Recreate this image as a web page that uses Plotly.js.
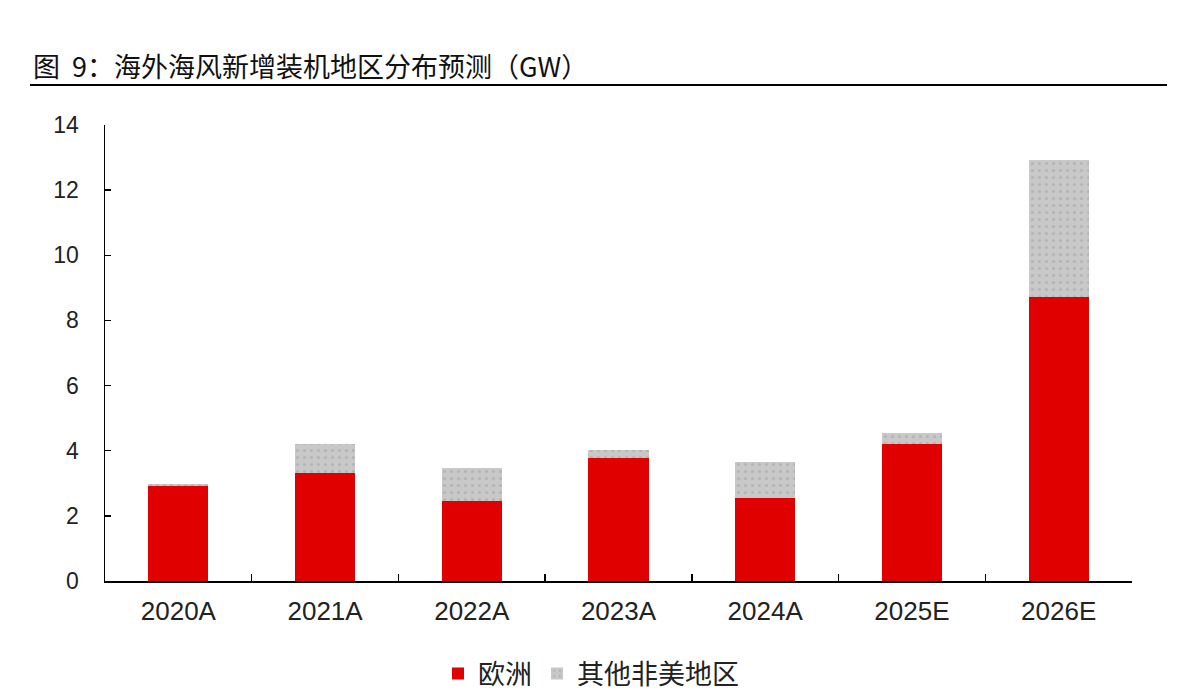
<!DOCTYPE html>
<html>
<head>
<meta charset="utf-8">
<script src="https://cdn.plot.ly/plotly-3.0.1.min.js"></script>
<style>html,body{margin:0;padding:0;background:#fff;}#chart{width:1182px;height:698px;}</style>
</head>
<body>
<div id="chart"></div>
<script>
const categories = ['2020A', '2021A', '2022A', '2023A', '2024A', '2025E', '2026E'];
const europe = [2.93, 3.32, 2.46, 3.78, 2.55, 4.21, 8.72];
const others = [0.05, 0.89, 1.01, 0.24, 1.10, 0.33, 4.21];
const seriesNames = ['欧洲', '其他非美地区'];
const yTicks = [0, 2, 4, 6, 8, 10, 12, 14];

const FONT = 'Liberation Sans, Arial, Noto Sans CJK SC, sans-serif';
const CJK = 'Noto Sans CJK SC, Liberation Sans, sans-serif';

const traces = [
  {
    type: 'bar', name: seriesNames[0], x: categories, y: europe,
    marker: {color: '#E00000', line: {width: 0}}
  },
  {
    type: 'bar', name: seriesNames[1], x: categories, y: others,
    marker: {color: '#C8C8C8', line: {width: 0},
      pattern: {shape: '.', fgcolor: '#B4B4B4', bgcolor: '#C8C8C8', size: 7, solidity: 0.15}}
  }
];

const layout = {
  width: 1182, height: 698,
  paper_bgcolor: '#fff', plot_bgcolor: '#fff',
  margin: {l: 105, r: 50, t: 125, b: 117, autoexpand: false},
  barmode: 'stack',
  bargap: 0.59,
  showlegend: true,
  font: {family: FONT, size: 20, color: '#222'},
  title: {
    text: '图  9：海外海风新增装机地区分布预测（GW）',
    font: {family: CJK, size: 27, color: '#111'},
    xref: 'container', yref: 'container',
    x: 33/1182, xanchor: 'left',
    y: 1 - 68/698, yanchor: 'middle'
  },
  xaxis: {
    type: 'category',
    showline: true, linecolor: '#000', linewidth: 1.5,
    ticks: 'inside', tickson: 'boundaries', ticklen: 7, tickcolor: '#000', tickwidth: 1.5,
    tickfont: {family: FONT, size: 26, color: '#222'},
    ticklabelstandoff: 6,
    showgrid: false, zeroline: false,
    automargin: false
  },
  yaxis: {
    range: [0, 14],
    tickvals: yTicks,
    ticktext: yTicks.map(String),
    showline: true, linecolor: '#000', linewidth: 1.5,
    ticks: 'inside', ticklen: 6, tickcolor: '#000', tickwidth: 1.5,
    tickfont: {family: FONT, size: 23, color: '#222'},
    ticklabelstandoff: 20,
    showgrid: false, zeroline: false,
    automargin: false
  },
  legend: {
    orientation: 'h',
    xref: 'container', yref: 'container',
    x: 0.5, xanchor: 'center',
    y: 1 - 674/698, yanchor: 'middle',
    font: {family: CJK, size: 27, color: '#222'},
    itemwidth: 30,
    traceorder: 'normal'
  },
  shapes: [
    {type: 'line', xref: 'paper', yref: 'paper',
     x0: (30 - 105) / 1027, x1: (1167 - 105) / 1027,
     y0: (581 - 85) / 456, y1: (581 - 85) / 456,
     line: {color: '#000', width: 2}}
  ]
};

Plotly.newPlot('chart', traces, layout, {displayModeBar: false, staticPlot: true});
</script>
</body>
</html>
